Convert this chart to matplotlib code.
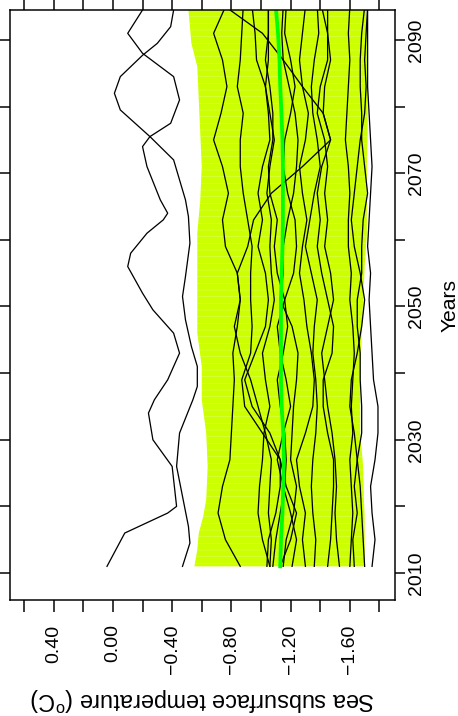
import matplotlib.pyplot as plt

plt.rcParams["font.family"] = ["Liberation Sans", "DejaVu Sans"]
plt.rcParams["mathtext.fontset"] = "custom"
plt.rcParams["mathtext.rm"] = "Liberation Sans"
plt.rcParams["hatch.linewidth"] = 0.5

DPI = 80

# ensemble members, sampled every 4 years
member_years = list(range(2011, 2096, 4))

member_01 = [-0.86, -0.76, -0.71, -0.74, -0.79, -0.80, -0.81, -0.82, -0.81, -0.84, -0.86,
             -0.84, -0.76, -0.74, -0.78, -0.74, -0.68, -0.73, -0.77, -0.74, -0.68, -0.76]
member_02 = [-1.04, -1.05, -1.10, -1.13, -1.13, -1.01, -0.89, -0.87, -0.93, -0.94, -0.93,
             -0.93, -0.94, -0.91, -0.88, -0.86, -0.86, -0.88, -0.84, -0.86, -0.87, -0.88]
member_03 = [-1.13, -1.20, -1.24, -1.17, -1.13, -1.06, -0.94, -0.89, -0.96, -1.03, -1.05,
             -1.03, -0.98, -1.01, -0.98, -1.01, -1.06, -1.05, -1.03, -0.97, -0.96, -0.94]
member_04 = [-1.06, -1.01, -0.98, -0.99, -1.01, -1.02, -1.06, -1.03, -1.01, -1.06, -1.09,
             -1.07, -1.06, -1.07, -1.04, -1.06, -1.09, -1.06, -1.03, -1.05, -1.05, -1.05]
member_05 = [-1.15, -1.17, -1.22, -1.24, -1.20, -1.21, -1.22, -1.24, -1.25, -1.21, -1.13,
             -1.15, -1.15, -1.18, -1.22, -1.24, -1.25, -1.23, -1.19, -1.15, -1.14, -1.15]
member_06 = [-1.30, -1.28, -1.30, -1.26, -1.24, -1.30, -1.35, -1.36, -1.34, -1.31, -1.29,
             -1.26, -1.28, -1.31, -1.28, -1.26, -1.30, -1.32, -1.28, -1.26, -1.28, -1.30]
member_07 = [-1.36, -1.37, -1.35, -1.34, -1.35, -1.37, -1.38, -1.37, -1.35, -1.36, -1.38,
             -1.34, -1.30, -1.33, -1.36, -1.40, -1.38, -1.35, -1.34, -1.36, -1.39, -1.38]
member_08 = [-1.45, -1.47, -1.48, -1.49, -1.49, -1.45, -1.42, -1.42, -1.48, -1.49, -1.45,
             -1.41, -1.38, -1.40, -1.38, -1.41, -1.47, -1.42, -1.43, -1.47, -1.45, -1.41]
member_09 = [-1.53, -1.51, -1.50, -1.51, -1.50, -1.48, -1.45, -1.43, -1.41, -1.45, -1.49,
             -1.47, -1.43, -1.45, -1.43, -1.45, -1.43, -1.38, -1.40, -1.45, -1.45, -1.45]
member_10 = [-1.60, -1.61, -1.62, -1.61, -1.60, -1.62, -1.61, -1.62, -1.63, -1.62, -1.60,
             -1.61, -1.59, -1.59, -1.60, -1.59, -1.57, -1.58, -1.59, -1.60, -1.59, -1.60]
member_11 = [-1.63, -1.62, -1.65, -1.63, -1.65, -1.68, -1.68, -1.67, -1.67, -1.65, -1.65,
             -1.68, -1.68, -1.69, -1.72, -1.70, -1.68, -1.68, -1.67, -1.67, -1.68, -1.70]
member_12 = [-1.70, -1.69, -1.68, -1.67, -1.65, -1.63, -1.60, -1.61, -1.65, -1.68, -1.70,
             -1.67, -1.63, -1.61, -1.63, -1.65, -1.67, -1.70, -1.71, -1.70, -1.71, -1.72]
member_13 = [-1.08, -1.10, -1.13, -1.16, -1.17, -1.16, -1.13, -1.11, -1.15, -1.18, -1.16,
             -1.11, -1.09, -1.11, -1.06, -1.05, -1.08, -1.08, -1.06, -1.03, -1.05, -1.05]
member_14 = [-1.21, -1.24, -1.20, -1.15, -1.11, -1.15, -1.20, -1.17, -1.13, -1.11, -1.16,
             -1.22, -1.24, -1.23, -1.18, -1.15, -1.16, -1.20, -1.23, -1.20, -1.16, -1.17]
member_15 = [-1.06, -1.07, -1.05, -1.06, -1.07, -1.03, -0.98, -0.93, -0.86, -0.82, -0.86,
             -0.84, -0.91, -0.95, -1.07, -1.28, -1.47, -1.42, -1.28, -1.15, -1.01, -0.76]
member_16 = [-1.75, -1.77, -1.75, -1.74, -1.77, -1.79, -1.79, -1.76, -1.75, -1.74, -1.73,
             -1.74, -1.72, -1.73, -1.74, -1.75, -1.74, -1.73, -1.72, -1.72, -1.72, -1.72]

ensemble_mean = [-1.13, -1.135, -1.145, -1.15, -1.155, -1.15, -1.14, -1.135, -1.135, -1.135,
                 -1.135, -1.14, -1.145, -1.148, -1.148, -1.148, -1.145, -1.138, -1.13,
                 -1.125, -1.115, -1.10]

# two warm members, read at their turning points
warm_a_years = [2011, 2016, 2019, 2020, 2026, 2030, 2034, 2036, 2039, 2043, 2046, 2049.5,
                2052, 2056, 2058, 2061, 2063, 2064, 2066, 2071, 2074, 2075.5, 2077.5, 2081,
                2084.5, 2088, 2091, 2094.5]
warm_a = [0.04, -0.08, -0.37, -0.43, -0.40, -0.27, -0.24, -0.28, -0.37, -0.45, -0.41, -0.27,
          -0.20, -0.10, -0.12, -0.23, -0.34, -0.37, -0.32, -0.23, -0.20, -0.25, -0.39, -0.45,
          -0.41, -0.20, -0.10, -0.20]

warm_b_years = [2011, 2014.5, 2017, 2021.5, 2026, 2031, 2036, 2038, 2041, 2044, 2048, 2051.5,
                2054.5, 2059.5, 2063.5, 2066, 2072, 2075.5, 2079.5, 2082, 2084.5, 2087.7,
                2089.5, 2092, 2094.5]
warm_b = [-0.47, -0.52, -0.51, -0.47, -0.43, -0.45, -0.54, -0.57, -0.57, -0.53, -0.49, -0.47,
          -0.49, -0.52, -0.51, -0.49, -0.41, -0.25, -0.05, -0.01, -0.05, -0.20, -0.30, -0.39,
          -0.41]

# spread band
band_years = [2011, 2013.5, 2016, 2018.5, 2021, 2026, 2031, 2036, 2041, 2046, 2051, 2056,
              2061, 2066, 2071, 2076, 2081, 2086, 2089.5, 2094.5]
band_high = [-0.55, -0.57, -0.58, -0.61, -0.63, -0.64, -0.63, -0.60, -0.60, -0.57, -0.57,
             -0.57, -0.57, -0.59, -0.60, -0.59, -0.58, -0.57, -0.53, -0.51]
band_low = [-1.70, -1.70, -1.70, -1.70, -1.695, -1.69, -1.67, -1.67, -1.67, -1.68, -1.69,
            -1.70, -1.715, -1.715, -1.715, -1.72, -1.72, -1.72, -1.715, -1.71]

temp_ticks = [0.6, 0.4, 0.2, 0.0, -0.2, -0.4, -0.6, -0.8, -1.0, -1.2, -1.4, -1.6, -1.8]
temp_tick_labels = ["", "0.40", "", "0.00", "", "\u22120.40", "", "\u22120.80", "",
                    "\u22121.20", "", "\u22121.60", ""]
year_ticks = [2010, 2020, 2030, 2040, 2050, 2060, 2070, 2080, 2090]
year_tick_labels = ["2010", "", "2030", "", "2050", "", "2070", "", "2090"]

members = [member_01, member_02, member_03, member_04, member_05, member_06, member_07,
           member_08, member_09, member_10, member_11, member_12, member_13, member_14,
           member_15, member_16]

fig = plt.figure(figsize=(458 / DPI, 716 / DPI), dpi=DPI)
axis = fig.add_axes([10 / 458, 116 / 716, 385 / 458, 590 / 716])

axis.fill_betweenx(band_years, band_low, band_high, facecolor="#ccff00",
                   edgecolor="#ddff5c", hatch="--", linewidth=0)

for temps in members:
    axis.plot(temps, member_years, color="black", linewidth=1.15, solid_joinstyle="round")
axis.plot(warm_a, warm_a_years, color="black", linewidth=1.15, solid_joinstyle="round")
axis.plot(warm_b, warm_b_years, color="black", linewidth=1.15, solid_joinstyle="round")
axis.plot(ensemble_mean, member_years, color="#00ff00", linewidth=3.4)

axis.set_xlim(0.695, -1.905)
axis.set_ylim(2005.95, 2094.5)

axis.set_xticks(temp_ticks)
axis.set_xticklabels(temp_tick_labels, rotation=90)
axis.set_yticks(year_ticks)
axis.set_yticklabels(year_tick_labels, rotation=90, va="center")
axis.tick_params(axis="both", direction="out", width=1.35, labelsize=17.5)
axis.tick_params(axis="x", top=True, bottom=True, length=10.5, pad=11.5)
axis.tick_params(axis="y", left=True, right=True, labelleft=False, labelright=True,
                 length=9, pad=2.5)
for spine in axis.spines.values():
    spine.set_linewidth(1.35)

axis.set_xlabel("Sea subsurface temperature (" + r"$^{\mathrm{o}}$" + "C)",
                rotation=180, fontsize=21, labelpad=10)
axis.yaxis.set_label_position("right")
axis.set_ylabel("Years", fontsize=19, labelpad=14)

fig.savefig("out.png", dpi=DPI)
plt.close(fig)
